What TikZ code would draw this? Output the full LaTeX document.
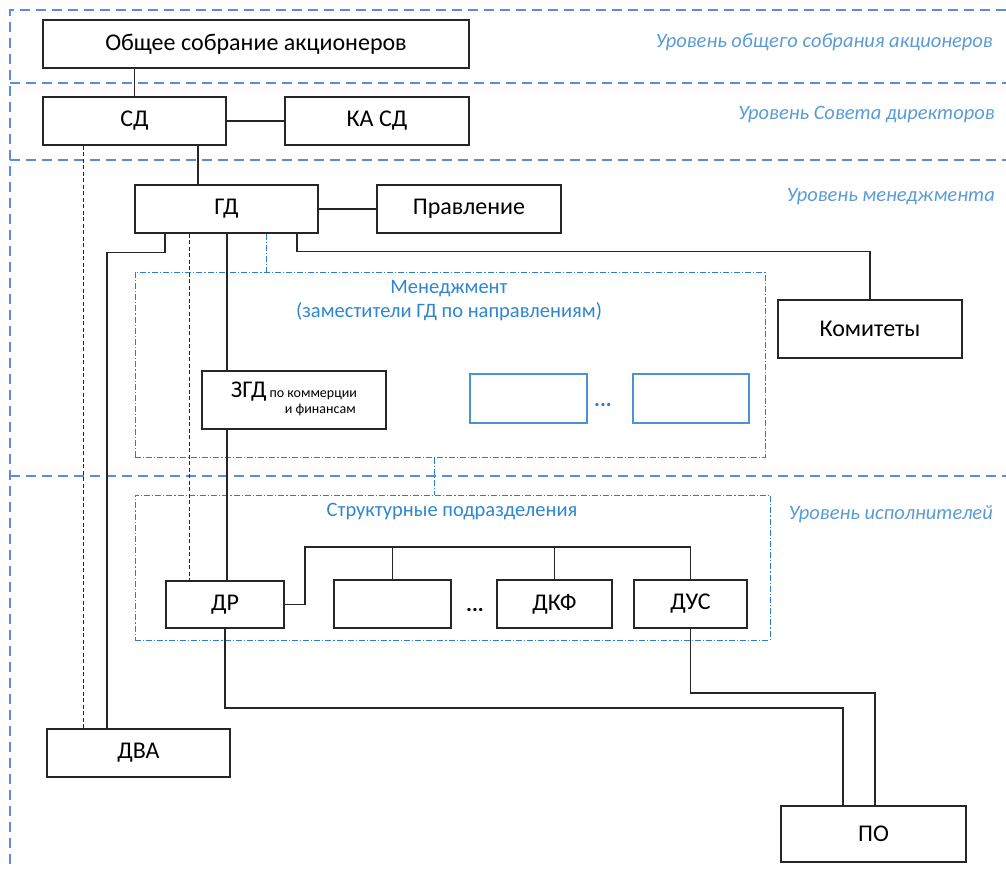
\documentclass[tikz,border=0pt]{standalone}
\usepackage{fontspec}
\setmainfont{Carlito}
\definecolor{lvlblue}{HTML}{5B8ED6}
\definecolor{ddblue}{HTML}{2A7FCB}
\definecolor{txtblue}{HTML}{2E86D0}
\definecolor{lbl}{HTML}{5B9BD5}
\begin{document}
\begin{tikzpicture}[x=1pt,y=-1pt,
  box/.style={draw=black!85,line width=1.3pt,fill=white,inner sep=0pt,font=\fontsize{24}{28}\selectfont},
  bbox/.style={draw=ddblue!85,line width=1.6pt,inner sep=0pt},
  conn/.style={draw=black!85,line width=1.2pt},
  dconn/.style={draw=black!85,line width=0.9pt,dash pattern=on 4pt off 2.5pt},
  level/.style={draw=lvlblue,line width=2.2pt,dash pattern=on 10pt off 6pt},
  ddash/.style={draw=ddblue,line width=1pt,dash pattern=on 6pt off 2pt on 1.2pt off 2pt},
  lvltext/.style={text=lbl,font=\fontsize{20.5}{24}\selectfont\itshape,anchor=east,inner sep=0pt},
  bluetext/.style={text=txtblue,font=\fontsize{20.5}{24}\selectfont,inner sep=0pt}
]
\useasboundingbox (0,0) rectangle (1006,870);
% level lines
\draw[level] (1006,10) -- (10,10) -- (10,870);
\draw[level] (10,83) -- (1006,83);
\draw[level] (10,160) -- (1006,160);
\draw[level] (10,476) -- (1006,476);
\node[lvltext] at (993,42) {Уровень общего собрания акционеров};
\node[lvltext] at (995,115) {Уровень Совета директоров};
\node[lvltext] at (995,197) {Уровень менеджмента};
\node[lvltext] at (993,514) {Уровень исполнителей};
% dash-dot groups
\node[ddash,minimum width=630pt,minimum height=185pt,inner sep=0pt] (mgmt) at (450,364.5) {};
\node[ddash,minimum width=635pt,minimum height=145pt,inner sep=0pt] (struct) at (452.5,567.5) {};
\node[bluetext] at (449,289) {Менеджмент};
\node[bluetext] at (449,312) {(заместители ГД по направлениям)};
\node[bluetext] at (452,512) {Структурные подразделения};
% x coordinates
\coordinate (x83) at (83,0);
\coordinate (x107) at (107,0);
\coordinate (x165) at (165,0);
\coordinate (x189) at (189,0);
\coordinate (x198) at (198,0);
\coordinate (x227) at (227,0);
\coordinate (x266) at (266,0);
\coordinate (x297) at (297,0);
\coordinate (x305) at (305,0);
\coordinate (x434) at (434,0);
\coordinate (x843) at (843,0);
\coordinate (x875) at (875,0);
\coordinate (y547) at (0,547);
\coordinate (y693) at (0,693);
\coordinate (y708) at (0,708);
% boxes
\node[box,minimum width=426pt,minimum height=48pt] (osa) at (256,44) {Общее собрание акционеров};
\node[box,minimum width=183pt,minimum height=48pt] (sd) at (134.5,121) {СД};
\node[box,minimum width=184pt,minimum height=48pt] (kasd) at (377,121) {КА СД};
\node[box,minimum width=183pt,minimum height=48pt] (gd) at (226.5,209) {ГД};
\node[box,minimum width=184pt,minimum height=48pt] (prav) at (469,209) {Правление};
\node[box,minimum width=184pt,minimum height=58pt] (kom) at (870,329) {Комитеты};
\node[box,minimum width=184pt,minimum height=58pt] (zgd) at (294,400) {ЗГД\hspace{3pt}{\fontsize{14}{17}\selectfont\begin{tabular}[t]{@{}c@{}}по коммерции\\[-1pt]\hspace{14pt}и финансам\end{tabular}}};
\node[bbox,minimum width=117pt,minimum height=49pt] (b1) at (528.5,398.5) {};
\node[bbox,minimum width=116pt,minimum height=49pt] (b2) at (691,398.5) {};
\node[text=ddblue,font=\fontsize{22}{26}\selectfont\bfseries,inner sep=0pt] (dots1) at (603,405) {...};
\node[box,minimum width=118pt,minimum height=47pt] (dr) at (225,604.5) {ДР};
\node[box,minimum width=117pt,minimum height=48pt] (e1) at (392.5,604) {};
\node[font=\fontsize{22}{26}\selectfont\bfseries,inner sep=0pt] (dots2) at (475,610) {...};
\node[box,minimum width=115pt,minimum height=48pt] (dkf) at (554.5,604) {ДКФ};
\node[box,minimum width=113pt,minimum height=48pt] (dus) at (690.5,604) {ДУС};
\node[box,minimum width=183pt,minimum height=48pt] (dva) at (138.5,753) {ДВА};
\node[box,minimum width=185pt,minimum height=56pt] (po) at (873.5,834) {ПО};
% connectors
\draw[conn] (sd.north) -- (sd.north |- osa.south);
\draw[conn] (sd.east) -- (kasd.west);
\draw[conn] (sd.south -| x198) -- (gd.north -| x198);
\draw[dconn] (sd.south -| x83) -- (dva.north -| x83);
\draw[conn] (gd.east) -- (prav.west);
\draw[conn] (gd.south -| x165) -- ++(0,19) -| (dva.north -| x107);
\draw[dconn] (gd.south -| x189) -- (dr.north -| x189);
\draw[conn] (gd.south -| x227) -- (zgd.north -| x227);
\draw[conn] (zgd.south -| x227) -- (dr.north -| x227);
\draw[ddash] (gd.south -| x266) -- (mgmt.north -| x266);
\draw[conn] (gd.south -| x297) -- ++(0,18) -| (kom.north);
\draw[ddash] (mgmt.south -| x434) -- (struct.north -| x434);
\draw[conn] (dr.east) -| (x305 |- y547) -| (dus.north);
\draw[conn] (e1.north) -- (e1.north |- y547);
\draw[conn] (dkf.north) -- (dkf.north |- y547);
\draw[conn] (dr.south) |- (x843 |- y708) -- (po.north -| x843);
\draw[conn] (dus.south) |- (x875 |- y693) -- (po.north -| x875);
\end{tikzpicture}
\end{document}
